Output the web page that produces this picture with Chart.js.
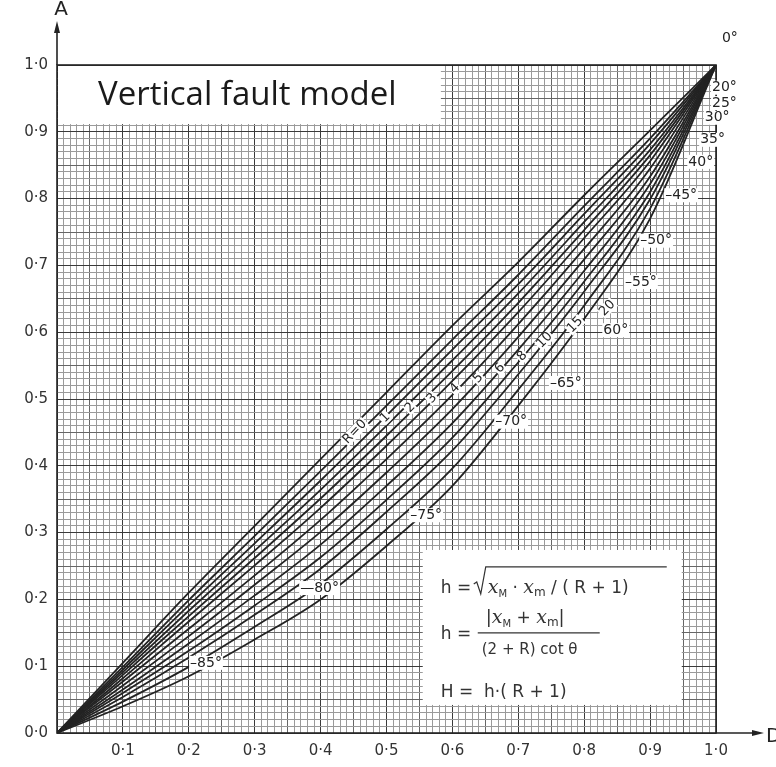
<!DOCTYPE html>
<html>
<head>
<meta charset="utf-8">
<title>Vertical fault model</title>
<script src="https://cdn.jsdelivr.net/npm/chart.js@4.4.1/dist/chart.umd.min.js"></script>
<style>
  html, body { margin: 0; padding: 0; background: #fff; }
  #wrap { width: 776px; height: 767px; }
</style>
</head>
<body>
<div id="wrap"><canvas id="chart" width="776" height="767"></canvas></div>
<script>
// D values along the horizontal axis
const dValues = [0, 0.1, 0.2, 0.3, 0.4, 0.5, 0.6, 0.7, 0.8, 0.9, 1.0];

// A values for each curve of the family (top curve first)
const line01 = [0, 0.105, 0.210, 0.310, 0.410, 0.510, 0.610, 0.705, 0.805, 0.902, 1];
const line02 = [0, 0.099, 0.199, 0.295, 0.392, 0.490, 0.589, 0.686, 0.789, 0.890, 1];
const line03 = [0, 0.095, 0.191, 0.284, 0.378, 0.475, 0.574, 0.672, 0.777, 0.882, 1];
const line04 = [0, 0.091, 0.183, 0.273, 0.364, 0.460, 0.558, 0.658, 0.765, 0.873, 1];
const line05 = [0, 0.087, 0.175, 0.262, 0.351, 0.445, 0.542, 0.644, 0.753, 0.865, 1];
const line06 = [0, 0.082, 0.167, 0.251, 0.337, 0.430, 0.527, 0.630, 0.741, 0.856, 1];
const line07 = [0, 0.077, 0.156, 0.236, 0.319, 0.410, 0.506, 0.612, 0.725, 0.845, 1];
const line08 = [0, 0.071, 0.145, 0.222, 0.301, 0.390, 0.485, 0.593, 0.709, 0.833, 1];
const line09 = [0, 0.065, 0.134, 0.206, 0.282, 0.370, 0.464, 0.574, 0.692, 0.822, 1];
const line10 = [0, 0.060, 0.123, 0.191, 0.263, 0.349, 0.442, 0.555, 0.676, 0.810, 1];
const line11 = [0, 0.054, 0.113, 0.177, 0.246, 0.331, 0.423, 0.537, 0.661, 0.799, 1];
const line12 = [0, 0.047, 0.099, 0.159, 0.223, 0.305, 0.396, 0.514, 0.640, 0.785, 1];
const line13 = [0, 0.040, 0.085, 0.140, 0.200, 0.280, 0.370, 0.490, 0.620, 0.770, 1];

// dip angle labels and where they sit (D, A)
const thetaLabels = ['0°', '20°', '25°', '30°', '35°', '40°', '–45°', '–50°', '–55°', '60°', '–65°', '–70°', '–75°', '—80°', '–85°'];
const thetaD = [1.009, 0.994, 0.994, 0.983, 0.976, 0.958, 0.923, 0.885, 0.862, 0.829, 0.748, 0.665, 0.536, 0.369, 0.202];
const thetaA = [1.040, 0.966, 0.943, 0.921, 0.888, 0.855, 0.805, 0.737, 0.675, 0.603, 0.524, 0.466, 0.326, 0.217, 0.105];

// R labels along the band
const rLabels = ['R=0', '1', '2', '3', '4', '5', '6', '8', '10', '15', '20'];
const rD = [0.452, 0.498, 0.536, 0.569, 0.604, 0.639, 0.672, 0.706, 0.740, 0.786, 0.835];
const rA = [0.451, 0.472, 0.487, 0.501, 0.516, 0.531, 0.546, 0.564, 0.588, 0.611, 0.636];

const curves = [line01, line02, line03, line04, line05, line06, line07, line08, line09, line10, line11, line12, line13];

const ink = '#232323';
const fmt = v => (Math.round(v * 10) / 10).toFixed(1).replace('.', '·');

const gridColor = ctx => ctx.index % 10 === 0 ? '#3a3a3a' : (ctx.index % 5 === 0 ? '#666' : '#9a9a9a');

const decor = {
  id: 'decor',
  beforeDatasetsDraw(chart) {
    const { ctx, scales: { x, y } } = chart;
    ctx.save();
    // title box
    const tx0 = x.getPixelForValue(0), tx1 = x.getPixelForValue(0.581);
    const ty0 = y.getPixelForValue(1), ty1 = y.getPixelForValue(0.913);
    ctx.fillStyle = '#fff';
    ctx.fillRect(tx0 + 1, ty0 + 1, tx1 - tx0, ty1 - ty0);
    ctx.fillStyle = '#1a1a1a';
    ctx.font = '33px "Open Sans", Lato, sans-serif';
    ctx.textBaseline = 'alphabetic';
    ctx.fillText('Vertical fault model', tx0 + 41, ty0 + 40);

    // formula box
    const bx0 = x.getPixelForValue(0.555), bx1 = x.getPixelForValue(0.948);
    const by0 = y.getPixelForValue(0.274), by1 = y.getPixelForValue(0.042);
    ctx.fillStyle = '#fff';
    ctx.fillRect(bx0, by0, bx1 - bx0, by1 - by0);

    ctx.fillStyle = '#333';
    ctx.strokeStyle = '#333';
    ctx.lineWidth = 1.2;
    const sans = s => s + 'px "DejaVu Sans", sans-serif';
    const xs = s => 'italic ' + s + 'px "DejaVu Serif", serif';
    const run = (parts, px, py) => {
      let cx = px;
      parts.forEach(([t, f, dy]) => {
        ctx.font = f;
        ctx.fillText(t, cx, py + (dy || 0));
        cx += ctx.measureText(t).width;
      });
      return cx;
    };
    // line 1
    const lx = bx0 + 18, ly = by0 + 43;
    ctx.font = sans(17);
    ctx.fillText('h =', lx, ly);
    const rx = lx + 33;
    ctx.beginPath();
    ctx.moveTo(rx, ly - 9); ctx.lineTo(rx + 3, ly - 11); ctx.lineTo(rx + 7, ly + 1);
    ctx.lineTo(rx + 12, ly - 26); ctx.lineTo(bx0 + 244, ly - 26);
    ctx.stroke();
    run([['x', xs(19)], ['M', sans(10), 4], [' · ', sans(17)], ['x', xs(19)], ['m', sans(12), 3], [' / ( R + 1)', sans(17)]], rx + 14, ly);
    // line 2
    ctx.font = sans(17);
    ctx.fillText('h =', lx, by0 + 89);
    const fx0 = bx0 + 55, fx1 = bx0 + 177;
    ctx.beginPath(); ctx.moveTo(fx0, by0 + 83); ctx.lineTo(fx1, by0 + 83); ctx.stroke();
    run([['|', sans(18)], ['x', xs(19)], ['M', sans(10), 4], [' + ', sans(17)], ['x', xs(19)], ['m', sans(12), 3], ['|', sans(18)]], fx0 + 8, by0 + 73);
    run([['(2 + R) cot θ', sans(15)]], fx0 + 4, by0 + 104);
    // line 3
    run([['H =  h·( R + 1)', sans(17)]], lx, by0 + 147);
    ctx.restore();
  },
  afterDraw(chart) {
    const { ctx, chartArea: a, scales: { x, y } } = chart;
    ctx.save();
    ctx.strokeStyle = ink;
    ctx.fillStyle = ink;
    ctx.lineWidth = 1.6;
    ctx.strokeRect(a.left, a.top, a.right - a.left, a.bottom - a.top);
    // axis arrows
    ctx.beginPath();
    ctx.moveTo(a.left, a.top); ctx.lineTo(a.left, a.top - 38);
    ctx.moveTo(a.right, a.bottom); ctx.lineTo(a.right + 42, a.bottom);
    ctx.stroke();
    ctx.beginPath();
    ctx.moveTo(a.left, a.top - 44); ctx.lineTo(a.left - 3, a.top - 32); ctx.lineTo(a.left + 3, a.top - 32); ctx.closePath();
    ctx.moveTo(a.right + 48, a.bottom); ctx.lineTo(a.right + 36, a.bottom - 3); ctx.lineTo(a.right + 36, a.bottom + 3); ctx.closePath();
    ctx.fill();
    ctx.font = '20px "DejaVu Sans", sans-serif';
    ctx.textBaseline = 'middle';
    ctx.textAlign = 'center';
    ctx.fillText('A', a.left + 4, a.top - 47 - 8);
    ctx.textAlign = 'left';
    ctx.fillText('D', a.right + 50, a.bottom + 4);

    // dip angle labels
    ctx.font = '14px "DejaVu Sans", sans-serif';
    ctx.textBaseline = 'middle';
    thetaLabels.forEach((t, i) => {
      const px = x.getPixelForValue(thetaD[i]), py = y.getPixelForValue(thetaA[i]);
      const w = ctx.measureText(t).width;
      ctx.fillStyle = '#fff';
      ctx.fillRect(px - 1, py - 7, w + 2, 14);
      ctx.fillStyle = ink;
      ctx.fillText(t, px, py);
    });

    // R labels, written along the curves
    ctx.font = '13px "DejaVu Sans", sans-serif';
    ctx.textAlign = 'center';
    rLabels.forEach((t, i) => {
      const px = x.getPixelForValue(rD[i]), py = y.getPixelForValue(rA[i]);
      ctx.save();
      ctx.translate(px, py);
      ctx.rotate(-0.8);
      const w = ctx.measureText(t).width;
      ctx.fillStyle = '#fff';
      ctx.fillRect(-w / 2 - 1, -6, w + 2, 12);
      ctx.fillStyle = ink;
      ctx.fillText(t, 0, 0);
      ctx.restore();
    });
    ctx.restore();
  }
};

new Chart(document.getElementById('chart'), {
  type: 'line',
  data: {
    datasets: curves.map((c, k) => ({
      label: 'curve ' + (k + 1),
      data: dValues.map((d, i) => ({ x: d, y: c[i] })),
      borderColor: ink,
      borderWidth: 1.8,
      pointRadius: 0,
      cubicInterpolationMode: 'monotone',
      fill: false
    }))
  },
  options: {
    responsive: false,
    animation: false,
    layout: { padding: { left: 0, right: 60, top: 65, bottom: 0 } },
    plugins: { legend: { display: false }, tooltip: { enabled: false } },
    scales: {
      x: {
        type: 'linear', min: 0, max: 1,
        afterFit: s => { s.height = 34; },
        border: { display: false },
        grid: { color: gridColor, lineWidth: 1, drawTicks: false },
        ticks: {
          stepSize: 0.01, maxTicksLimit: 200, autoSkip: false, maxRotation: 0, padding: 9,
          color: '#333', font: { family: '"DejaVu Sans", sans-serif', size: 15 },
          callback: (v, i) => (i % 10 === 0 && i > 0) ? fmt(v) : ''
        }
      },
      y: {
        type: 'linear', min: 0, max: 1,
        afterFit: s => { s.width = 57; },
        border: { display: false },
        grid: { color: gridColor, lineWidth: 1, drawTicks: false },
        ticks: {
          stepSize: 0.01, maxTicksLimit: 200, autoSkip: false, padding: 9,
          color: '#333', font: { family: '"DejaVu Sans", sans-serif', size: 15 },
          callback: (v, i) => i % 10 === 0 ? fmt(v) : ''
        }
      }
    }
  },
  plugins: [decor]
});
</script>
</body>
</html>
